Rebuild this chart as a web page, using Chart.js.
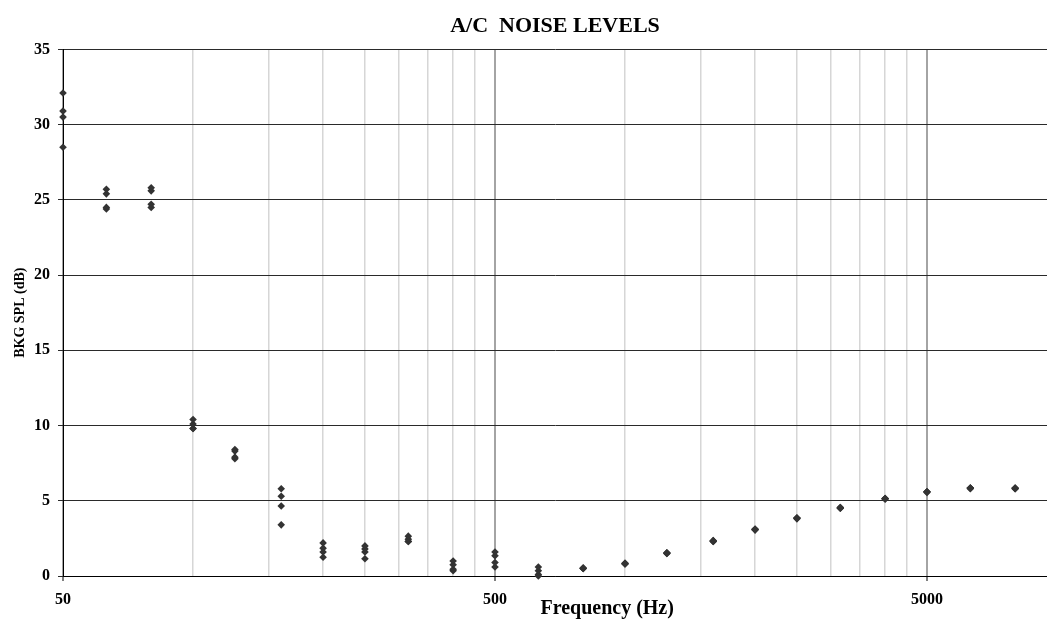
<!DOCTYPE html>
<html>
<head>
<meta charset="utf-8">
<title>A/C Noise Levels</title>
<script src="https://cdn.jsdelivr.net/npm/chart.js@4/dist/chart.umd.min.js"></script>
<style>
  html, body { margin: 0; padding: 0; background: #fff; }
  #wrap { width: 1047px; height: 619px; position: relative; }
</style>
</head>
<body>
<div id="wrap"><canvas id="chartNoise"></canvas></div>
<script>
// 1/3-octave band centre frequencies (Hz)
const freqs = [50, 63, 80, 100, 125, 160, 200, 250, 315, 400, 500, 630, 800,
  1000, 1250, 1600, 2000, 2500, 3150, 4000, 5000, 6300, 8000];

// background SPL readings (dB), one array per measurement run
const runA = [32.1, 25.7, 25.8, 10.4, 8.4, 5.8, 2.2, 2.0, 2.65, 1.0, 1.6, 0.6, 0.55,
  0.85, 1.55, 2.35, 3.1, 3.85, 4.55, 5.15, 5.6, 5.85, 5.85];
const runB = [30.9, 25.4, 25.6, 10.1, 8.3, 5.3, 1.85, 1.8, 2.45, 0.75, 1.35, 0.35, 0.5,
  0.8, 1.5, 2.3, 3.1, 3.85, 4.5, 5.15, 5.6, 5.85, 5.8];
const runC = [30.5, 24.5, 24.7, 9.8, 7.9, 4.65, 1.6, 1.6, 2.3, 0.45, 0.9, 0.1, 0.5,
  0.8, 1.5, 2.3, 3.05, 3.8, 4.5, 5.1, 5.55, 5.8, 5.8];
const runD = [28.5, 24.4, 24.5, 9.8, 7.8, 3.4, 1.25, 1.15, 2.3, 0.35, 0.6, 0.0, 0.5,
  0.85, 1.55, 2.35, 3.1, 3.85, 4.55, 5.15, 5.6, 5.85, 5.85];

// x axis: labelled decades + minor gridlines every 50 / 500 Hz
const xMajor = [50, 500, 5000];
const xTicks = [50, 100, 150, 200, 250, 300, 350, 400, 450,
  500, 1000, 1500, 2000, 2500, 3000, 3500, 4000, 4500, 5000];
const yTicks = [0, 5, 10, 15, 20, 25, 30, 35];

const FONT = "'Liberation Serif', 'Times New Roman', serif";

const toPoints = (vals) => freqs.map((f, i) => ({ x: f, y: vals[i] }));

const runs = [runA, runB, runC, runD].map((vals) => ({
  data: toPoints(vals),
  showLine: false,
  clip: false,
  pointStyle: "rectRot",
  pointRadius: 3.8,
  pointBackgroundColor: "#333333",
  pointBorderColor: "#333333",
  pointBorderWidth: 0,
}));

// x axis title sits on the same row as the tick labels
const xTitle = {
  id: "xTitle",
  afterDraw(chart) {
    const { ctx, chartArea } = chart;
    ctx.save();
    ctx.font = "bold 20px " + FONT;
    ctx.fillStyle = "#000";
    ctx.textAlign = "center";
    ctx.textBaseline = "middle";
    const cx = chartArea.left + (chartArea.right - chartArea.left) * 0.553;
    ctx.fillText("Frequency (Hz)", cx, chartArea.bottom + 33);
    ctx.restore();
  },
};

new Chart(document.getElementById("chartNoise"), {
  type: "scatter",
  data: { datasets: runs },
  plugins: [xTitle],
  options: {
    responsive: true,
    maintainAspectRatio: false,
    animation: false,
    layout: { padding: 0, autoPadding: false },
    plugins: {
      legend: { display: false },
      tooltip: { enabled: false },
      title: {
        display: true,
        fullSize: false,
        text: "A/C  NOISE LEVELS",
        color: "#000",
        font: { family: FONT, size: 22, weight: "bold" },
        padding: { top: 13, bottom: 10 },
      },
    },
    scales: {
      x: {
        type: "logarithmic",
        min: 50,
        max: 9480,
        afterBuildTicks: (scale) => {
          scale.ticks = xTicks.map((v) => ({ value: v, major: xMajor.includes(v) }));
        },
        afterFit: (scale) => {
          scale.height = 43;
          scale.paddingLeft = 0;
          scale.paddingRight = 0;
        },
        ticks: {
          autoSkip: false,
          maxRotation: 0,
          padding: 9,
          color: "#000",
          font: { family: FONT, size: 16, weight: "bold" },
          callback: (v) => (xMajor.includes(v) ? String(v) : ""),
        },
        grid: {
          tickLength: 5,
          color: (c) => (c.tick && xMajor.includes(c.tick.value) ? "#a4a4a4" : "#d6d6d6"),
          lineWidth: (c) => (c.tick && xMajor.includes(c.tick.value) ? 2 : 1.5),
          tickColor: (c) => (c.tick && xMajor.includes(c.tick.value) ? "#000" : "rgba(0,0,0,0)"),
          tickWidth: 1,
        },
        border: { color: "#000", width: 1 },
      },
      y: {
        min: 0,
        max: 35,
        afterBuildTicks: (scale) => {
          scale.ticks = yTicks.map((v) => ({ value: v }));
        },
        afterFit: (scale) => {
          scale.width = 63;
        },
        ticks: {
          padding: 8,
          color: "#000",
          font: { family: FONT, size: 16, weight: "bold" },
        },
        grid: {
          tickLength: 5,
          color: "#2a2a2a",
          lineWidth: 1,
        },
        border: { color: "#000", width: 1 },
        title: {
          display: true,
          text: "BKG SPL (dB)",
          color: "#000",
          font: { family: FONT, size: 14, weight: "bold" },
          padding: { top: 12, bottom: 0 },
        },
      },
    },
  },
});
</script>
</body>
</html>
